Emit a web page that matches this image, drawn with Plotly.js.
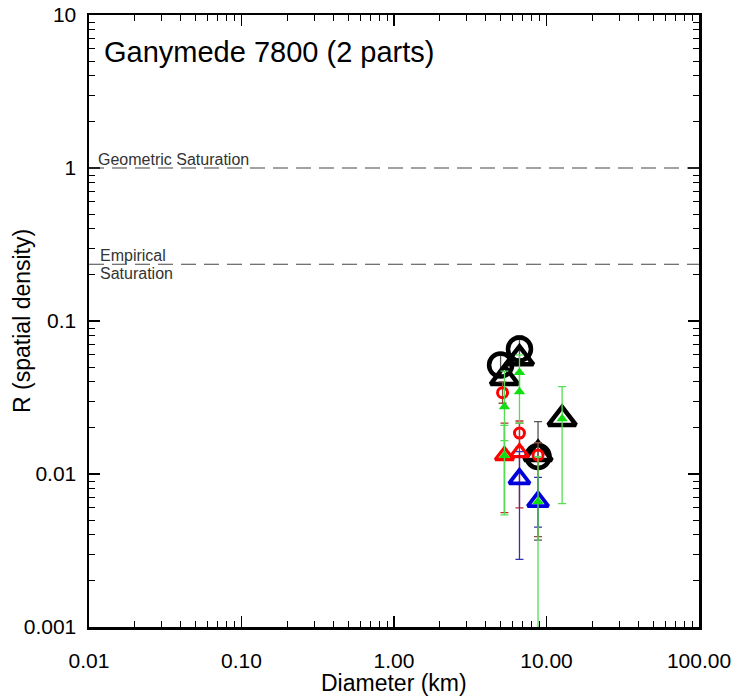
<!DOCTYPE html>
<html>
<head>
<meta charset="utf-8">
<script src="https://cdn.plot.ly/plotly-3.0.1.min.js"></script>
<style>html,body{margin:0;padding:0;background:#fff;}#chart{width:735px;height:700px;}</style>
</head>
<body>
<div id="chart"></div>
<script>
// ---- data ----
var blackCircleX  = [5.0, 6.65, 8.8];
var blackCircleY  = [0.0515, 0.0656, 0.013];
var blackCircleHi = [0.060, 0.080, 0.022];
var blackCircleLo = [0.043, 0.054, 0.0037];

var blackTriX = [5.3, 6.65, 8.8, 12.66];
var blackTriY = [0.0424, 0.057, 0.0135, 0.0229];

var redCircleX  = [5.15, 6.65, 8.8];
var redCircleY  = [0.034, 0.0185, 0.0133];
var redCircleHi = [0.040, 0.0215, 0.016];
var redCircleLo = [0.029, 0.0150, 0.0039];

var redTriX  = [5.3, 6.65];
var redTriY  = [0.0132, 0.0138];
var redTriHi = [0.0215, 0.0222];
var redTriLo = [0.0056, 0.0060];

var blueTriX  = [6.65, 8.8];
var blueTriY  = [0.0093, 0.0066];
var blueTriHi = [0.0140, 0.0095];
var blueTriLo = [0.00277, 0.0045];

var greenX  = [5.3, 5.3, 6.65, 6.65, 8.8, 12.66];
var greenY  = [0.0275, 0.0132, 0.046, 0.0345, 0.0066, 0.023];
var greenHi = [0.047, 0.0208, 0.060, 0.046, 0.013, 0.0373];
var greenLo = [0.0165, 0.0054, 0.034, 0.0215, 0.0001, 0.0064];

var geometricSat = 1;
var empiricalSat = 0.235;

var xTickVals = [0.01, 0.1, 1, 10, 100];
var xTickText = ['0.01', '0.10', '1.00', '10.00', '100.00'];
var yTickVals = [0.001, 0.01, 0.1, 1, 10];
var yTickText = ['0.001', '0.01', '0.1', '1', '10'];

// ---- helpers ----
function plus(y, hi){ return y.map(function(v,i){ return hi[i]-v; }); }
function minus(y, lo){ return y.map(function(v,i){ return v-lo[i]; }); }
function minorVals(majors){
  var out = [];
  for (var i = 0; i < majors.length - 1; i++)
    for (var m = 2; m <= 9; m++) out.push(majors[i]*m);
  return out;
}
function err(y, hi, lo, color){
  return {type:'data', symmetric:false, array:plus(y,hi), arrayminus:minus(y,lo),
          color:color, thickness:1.3, width:4};
}

var traces = [
  {x:blackCircleX, y:blackCircleY, mode:'markers', type:'scatter',
   marker:{symbol:'circle-open', size:23, color:'#000', line:{width:4.5, color:'#000'}},
   error_y:err(blackCircleY, blackCircleHi, blackCircleLo, '#555')},
  {x:blackTriX, y:blackTriY, mode:'markers', type:'scatter',
   marker:{symbol:'triangle-up-open', size:24, color:'#000', line:{width:4.5, color:'#000'}}},
  {x:redCircleX, y:redCircleY, mode:'markers', type:'scatter',
   marker:{symbol:'circle-open', size:10, color:'#ff0000', line:{width:3, color:'#ff0000'}},
   error_y:err(redCircleY, redCircleHi, redCircleLo, '#8a5040')},
  {x:redTriX, y:redTriY, mode:'markers', type:'scatter',
   marker:{symbol:'triangle-up-open', size:16, color:'#ff0000', line:{width:3.2, color:'#ff0000'}},
   error_y:err(redTriY, redTriHi, redTriLo, '#c03030')},
  {x:blueTriX, y:blueTriY, mode:'markers', type:'scatter',
   marker:{symbol:'triangle-up-open', size:18, color:'#0000dd', line:{width:3.8, color:'#0000dd'}},
   error_y:err(blueTriY, blueTriHi, blueTriLo, '#3333aa')},
  {x:greenX, y:greenY, mode:'markers', type:'scatter',
   marker:{symbol:'triangle-up', size:10, color:'#11dd11', line:{width:0}},
   error_y:err(greenY, greenHi, greenLo, '#55dd55')}
];

var fontFam = 'Liberation Sans, Arial, sans-serif';

var layout = {
  width:735, height:700,
  margin:{l:89, r:36, t:15, b:73},
  paper_bgcolor:'#fff', plot_bgcolor:'#fff',
  showlegend:false,
  font:{family:fontFam, color:'#000'},
  xaxis:{
    type:'log', range:[-2, 2], autorange:false,
    tickmode:'array', tickvals:xTickVals, ticktext:xTickText,
    ticks:'inside', ticklen:11, tickwidth:1.5, tickcolor:'#000',
    minor:{tickvals:minorVals(xTickVals), ticks:'inside', ticklen:6, tickwidth:1, tickcolor:'#000', showgrid:false},
    showgrid:false, zeroline:false,
    showline:true, linewidth:2.5, linecolor:'#000', mirror:'ticks',
    tickfont:{size:21, family:fontFam, color:'#000'},
    ticklabelstandoff:13
  },
  yaxis:{
    type:'log', range:[-3, 1], autorange:false,
    tickmode:'array', tickvals:yTickVals, ticktext:yTickText,
    ticks:'inside', ticklen:11, tickwidth:1.5, tickcolor:'#000',
    minor:{tickvals:minorVals(yTickVals), ticks:'inside', ticklen:6, tickwidth:1, tickcolor:'#000', showgrid:false},
    showgrid:false, zeroline:false,
    showline:true, linewidth:2.5, linecolor:'#000', mirror:'ticks',
    tickfont:{size:21, family:fontFam, color:'#000'},
    ticklabelstandoff:6
  },
  shapes:[
    {type:'line', xref:'paper', yref:'y', x0:0, x1:1, y0:geometricSat, y1:geometricSat,
     line:{color:'#444', width:1.2, dash:'15px,8px'}},
    {type:'line', xref:'paper', yref:'y', x0:0, x1:1, y0:empiricalSat, y1:empiricalSat,
     line:{color:'#444', width:1.2, dash:'15px,8px'}}
  ],
  annotations:[
    {text:'Diameter (km)', xref:'paper', yref:'paper', x:0.5, y:-0.0915,
     xanchor:'center', yanchor:'middle', showarrow:false,
     font:{size:23, family:fontFam, color:'#000'}},
    {text:'R (spatial density)', xref:'paper', yref:'paper', x:-0.11, y:0.5, textangle:-90,
     xanchor:'center', yanchor:'middle', showarrow:false,
     font:{size:23, family:fontFam, color:'#000'}},
    {text:'Ganymede 7800 (2 parts)', xref:'paper', yref:'paper', x:0.021, y:0.94,
     xanchor:'left', yanchor:'middle', showarrow:false,
     font:{size:29, family:fontFam, color:'#000'}},
    {text:'Geometric Saturation', xref:'paper', yref:'y', x:0.012, y:Math.log10(geometricSat),
     xanchor:'left', yanchor:'bottom', showarrow:false, yshift:-2,
     font:{size:16, family:fontFam, color:'#333'}},
    {text:'Empirical', xref:'paper', yref:'y', x:0.015, y:Math.log10(empiricalSat),
     xanchor:'left', yanchor:'bottom', showarrow:false, yshift:-2,
     font:{size:16, family:fontFam, color:'#333'}},
    {text:'Saturation', xref:'paper', yref:'y', x:0.015, y:Math.log10(empiricalSat),
     xanchor:'left', yanchor:'top', showarrow:false, yshift:1,
     font:{size:16, family:fontFam, color:'#333'}}
  ]
};

Plotly.newPlot('chart', traces, layout, {displayModeBar:false, staticPlot:true});
</script>
</body>
</html>
